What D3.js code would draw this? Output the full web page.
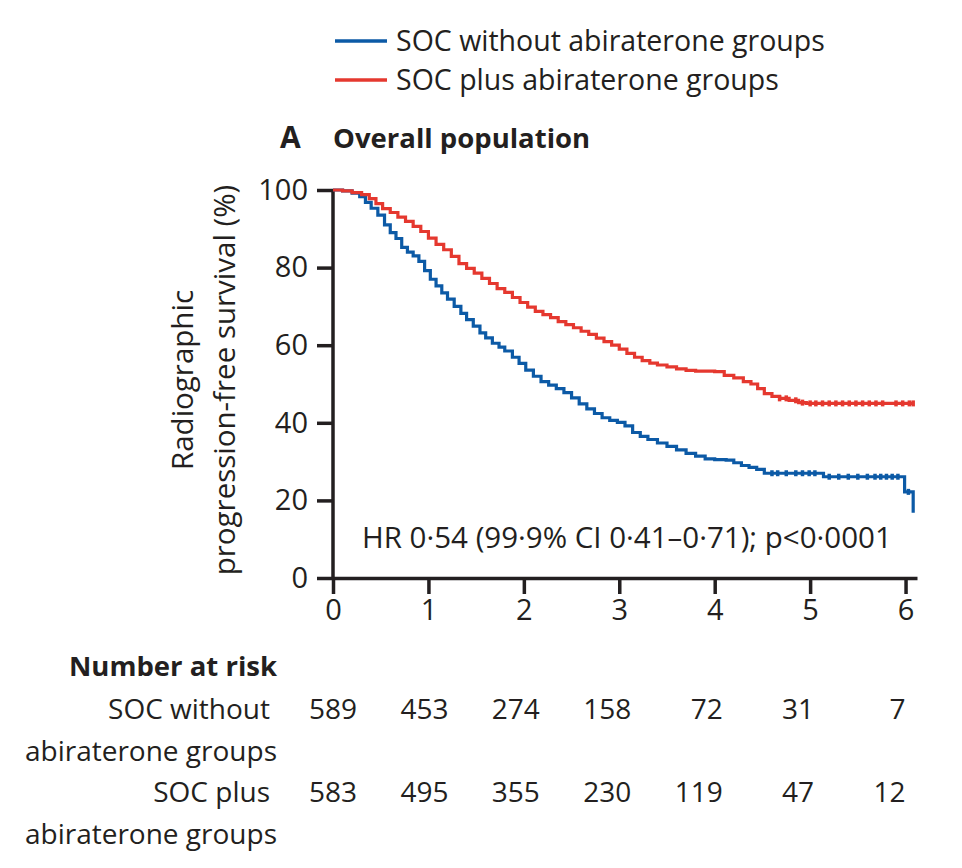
<!DOCTYPE html>
<html>
<head>
<meta charset="utf-8">
<script src="https://cdn.jsdelivr.net/npm/d3@7/dist/d3.min.js"></script>
<style>
  html, body { margin: 0; padding: 0; background: #ffffff; }
  svg { display: block; }
  text { fill: #231f20; font-family: "Open Sans", Lato, "Noto Sans", sans-serif; }
</style>
</head>
<body>
<svg id="chart" width="962" height="868"></svg>
<script>
// ---------------- DATA ----------------
const seriesNames = ["SOC without abiraterone groups", "SOC plus abiraterone groups"];
const seriesColors = ["#0c5aa6", "#e5382f"];

// Kaplan-Meier step points (years, % surviving)
const socTimes = [0, 0.1, 0.2, 0.28, 0.34, 0.4, 0.47, 0.54, 0.6, 0.66, 0.72, 0.78, 0.84, 0.9, 0.96,
  1.02, 1.08, 1.14, 1.2, 1.27, 1.34, 1.4, 1.47, 1.54, 1.6, 1.67, 1.74, 1.8, 1.88, 1.95,
  2.02, 2.1, 2.18, 2.26, 2.34, 2.42, 2.5, 2.58, 2.66, 2.74, 2.82, 2.9, 2.98,
  3.06, 3.14, 3.22, 3.3, 3.4, 3.5, 3.6, 3.7, 3.8, 3.9, 4.0, 4.12, 4.2, 4.28, 4.36, 4.44, 4.52,
  5.14, 5.99, 6.08, 6.08];
const socSurv = [100, 99.8, 99.2, 98.3, 96.8, 95.3, 93.5, 91.0, 89.0, 87.5, 85.2, 84.0, 83.0, 81.6, 79.2,
  77.0, 75.3, 73.5, 71.9, 70.0, 68.2, 66.6, 64.9, 63.2, 61.9, 60.5, 59.5, 58.5, 56.9, 55.3,
  53.6, 52.0, 50.6, 49.7, 48.8, 47.8, 46.4, 44.9, 43.6, 42.4, 41.3, 40.6, 40.1,
  39.2, 37.5, 36.5, 35.7, 34.8, 33.9, 33.0, 32.1, 31.4, 30.7, 30.5, 30.4, 29.7, 29.0, 28.5, 28.0, 27.0,
  26.1, 22.2, 16.8, 16.8];

const abiTimes = [0, 0.1, 0.2, 0.3, 0.38, 0.45, 0.52, 0.6, 0.68, 0.76, 0.84, 0.92,
  1.0, 1.08, 1.16, 1.24, 1.32, 1.4, 1.48, 1.56, 1.64, 1.72, 1.8, 1.88, 1.96,
  2.04, 2.12, 2.2, 2.28, 2.36, 2.44, 2.52, 2.6, 2.68, 2.76, 2.84, 2.92,
  3.0, 3.08, 3.16, 3.24, 3.32, 3.4, 3.5, 3.6, 3.7, 3.8, 4.0, 4.1, 4.2, 4.3, 4.38,
  4.45, 4.52, 4.6, 4.68, 4.78, 4.88, 4.96, 6.09];
const abiSurv = [100, 99.8, 99.3, 98.8, 97.8, 96.5, 95.2, 94.2, 93.0, 91.9, 90.6, 89.3,
  87.6, 86.0, 84.6, 82.9, 81.0, 79.8, 78.6, 77.2, 75.9, 74.6, 73.6, 72.3, 71.0,
  69.8, 68.7, 67.9, 67.1, 66.1, 65.3, 64.5, 63.6, 62.8, 61.8, 60.9, 60.0,
  59.0, 57.9, 56.9, 56.0, 55.4, 54.9, 54.4, 53.9, 53.5, 53.3, 53.2, 52.2, 51.6, 50.6, 50.0,
  48.8, 47.5, 46.8, 46.3, 45.8, 45.2, 45.0, 45.0];

// censoring marks (years)
const socCensor = [4.6, 4.66, 4.75, 4.85, 4.92, 4.99, 5.05, 5.2, 5.3, 5.4, 5.5, 5.6, 5.68, 5.74, 5.8, 5.86, 5.92, 6.03];
const abiCensor = [4.68, 4.75, 4.85, 4.92, 5.0, 5.06, 5.13, 5.2, 5.27, 5.34, 5.41, 5.48, 5.55, 5.62, 5.69, 5.76, 5.9, 5.97, 6.04, 6.08];

const xTicks = [0, 1, 2, 3, 4, 5, 6];
const yTicks = [0, 20, 40, 60, 80, 100];

const riskLabels = [["SOC without", "abiraterone groups"], ["SOC plus", "abiraterone groups"]];
const riskSoc = [589, 453, 274, 158, 72, 31, 7];
const riskAbi = [583, 495, 355, 230, 119, 47, 12];

const hrText = "HR 0·54 (99·9% CI 0·41–0·71); p<0·0001";
const panelLetter = "A";
const panelTitle = "Overall population";
const yLabelLines = ["Radiographic", "progression-free survival (%)"];

// ---------------- DRAW ----------------
const svg = d3.select("#chart");
const ink = "#231f20";
const FONT = "'Open Sans', Lato, sans-serif";

const x = d3.scaleLinear().domain([0, 6.12]).range([333, 917]);
const y = d3.scaleLinear().domain([0, 100]).range([578, 190]);

// Legend
const legend = svg.append("g");
seriesNames.forEach((name, i) => {
  const ly = 41 + i * 39;
  legend.append("line").attr("x1", 335).attr("x2", 387).attr("y1", ly).attr("y2", ly)
    .attr("stroke", seriesColors[i]).attr("stroke-width", 3.5);
  legend.append("text").attr("x", 396).attr("y", ly + 10).attr("font-size", 28.5).text(name);
});

// Title
svg.append("text").attr("x", 280).attr("y", 148).attr("font-size", 30).attr("font-weight", 700).text(panelLetter);
svg.append("text").attr("x", 333).attr("y", 148).attr("font-size", 27.5).attr("font-weight", 700).text(panelTitle);

// Axes
const xAxis = d3.axisBottom(x).tickValues(xTicks).tickFormat(d3.format("d")).tickSize(16).tickSizeOuter(0).tickPadding(5);
const yAxis = d3.axisLeft(y).tickValues(yTicks).tickFormat(d3.format("d")).tickSize(16).tickSizeOuter(0).tickPadding(9);

const gx = svg.append("g").attr("transform", `translate(0,${y(0)})`).call(xAxis);
const gy = svg.append("g").attr("transform", `translate(${x(0)},0)`).call(yAxis);
[gx, gy].forEach(g => {
  g.select(".domain").attr("stroke", ink).attr("stroke-width", 3.5);
  g.selectAll(".tick line").attr("stroke", ink).attr("stroke-width", 3.5);
  g.selectAll(".tick text").attr("fill", ink).attr("font-size", 29).attr("font-family", FONT);
});
gy.select(".domain").attr("d", `M0,${y(0)}V${y(100)}`);

// Y label
const yl = svg.append("text").attr("transform", `translate(199,380) rotate(-90)`)
  .attr("text-anchor", "middle").attr("font-size", 29.5);
yl.append("tspan").attr("x", 0).attr("dy", -6).text(yLabelLines[0]);
yl.append("tspan").attr("x", 0).attr("dy", 42).text(yLabelLines[1]);

// Curves
const line = d3.line().x(d => x(d[0])).y(d => y(d[1])).curve(d3.curveStepAfter);
const curves = [
  { t: socTimes, s: socSurv, c: socCensor, color: seriesColors[0] },
  { t: abiTimes, s: abiSurv, c: abiCensor, color: seriesColors[1] }
];
curves.forEach(cv => {
  const pts = cv.t.map((t, i) => [t, cv.s[i]]);
  svg.append("path").datum(pts).attr("d", line).attr("fill", "none")
    .attr("stroke", cv.color).attr("stroke-width", 3.2).attr("stroke-linejoin", "miter");
  const bis = d3.bisector(d => d).right;
  svg.append("g").selectAll("line").data(cv.c).join("line")
    .attr("x1", d => x(d)).attr("x2", d => x(d))
    .attr("y1", d => y(cv.s[Math.max(0, bis(cv.t, d) - 1)]) - 3)
    .attr("y2", d => y(cv.s[Math.max(0, bis(cv.t, d) - 1)]) + 3)
    .attr("stroke", cv.color).attr("stroke-width", 3.5);
});

// HR annotation
svg.append("text").attr("x", 362).attr("y", 548).attr("font-size", 29.5).text(hrText);

// Number at risk
svg.append("text").attr("x", 277).attr("y", 676).attr("text-anchor", "end")
  .attr("font-size", 27.5).attr("font-weight", 700).text("Number at risk");

const colX = d3.scalePoint().domain(xTicks).range([x(0) + 24, x(6)]);
[riskSoc, riskAbi].forEach((row, r) => {
  const baseY = 719 + r * 83;
  svg.append("text").attr("x", 270).attr("y", baseY).attr("text-anchor", "end").attr("font-size", 28).text(riskLabels[r][0]);
  svg.append("text").attr("x", 277).attr("y", baseY + 42).attr("text-anchor", "end").attr("font-size", 28).text(riskLabels[r][1]);
  svg.append("g").selectAll("text").data(row).join("text")
    .attr("x", (d, i) => colX(xTicks[i])).attr("y", baseY)
    .attr("text-anchor", "end").attr("font-size", 28).text(d => d);
});
</script>
</body>
</html>
